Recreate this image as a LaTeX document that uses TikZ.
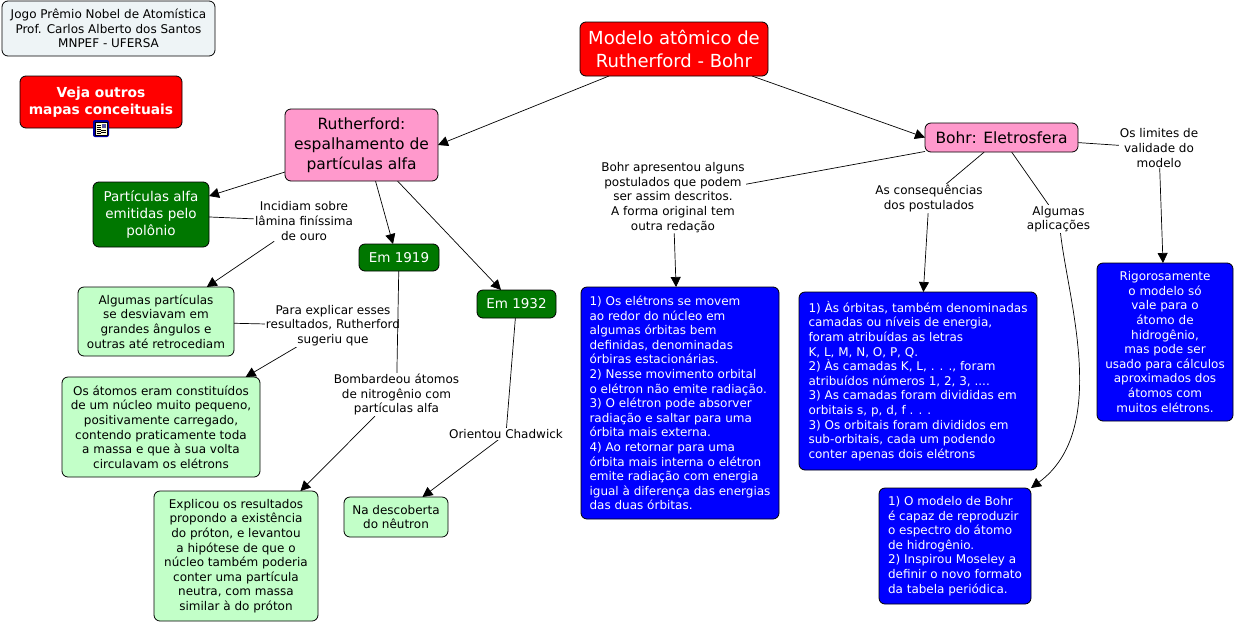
\documentclass[tikz,border=0pt]{standalone}
\usepackage{fontspec}
\setmainfont{DejaVu Sans}
\usetikzlibrary{arrows.meta,backgrounds}
\definecolor{cpink}{HTML}{FF99CC}
\definecolor{cgreen}{HTML}{007700}
\definecolor{clight}{HTML}{C2FFC8}
\definecolor{cinfo}{HTML}{EEF4F6}
\tikzset{
 x=1pt,y=-1pt,
 boxbase/.style={draw=black,line width=.8pt,rounded corners=6pt,align=center,inner sep=0pt,outer sep=0pt,font=\fontsize{12}{14.6}\selectfont},
 redbox/.style={boxbase,fill=red,text=white},
 pinkbox/.style={boxbase,fill=cpink,text=black},
 greenbox/.style={boxbase,fill=cgreen,text=white},
 lightbox/.style={boxbase,fill=clight,text=black},
 bluebox/.style={boxbase,fill=blue,text=white},
 infobox/.style={boxbase,fill=cinfo,text=black},
 linkl/.style={fill=white,inner sep=1pt,outer sep=0pt,align=center,font=\fontsize{12}{14.6}\selectfont},
 plain/.style={draw=black,line width=.7pt},
 arr/.style={plain,-{Triangle[length=10pt,width=10pt]}},
}
\newcommand{\bx}[7]{\node[#6,minimum width=#4pt-#2pt,minimum height=#5pt-#3pt] (#1) at ({(#2+#4)/2},{(#3+#5)/2}) {#7};}
\begin{document}
\begin{tikzpicture}
\useasboundingbox (0,0) rectangle (1234,622);
\bx{info}{2}{1}{215}{56}{infobox}{Jogo Prêmio Nobel de Atomística\\Prof. Carlos Alberto dos Santos\\MNPEF - UFERSA}
\bx{veja}{20}{76}{182}{128}{redbox,font=\fontsize{13.8}{17}\selectfont\bfseries}{Veja outros\\mapas conceituais}
\bx{title}{580}{22}{768}{76}{redbox,font=\fontsize{18}{23}\selectfont}{Modelo atômico de\\Rutherford - Bohr}
\bx{ruth}{285}{109}{438}{181}{pinkbox,font=\fontsize{15.5}{20}\selectfont}{Rutherford:\\espalhamento de\\partículas alfa}
\bx{bohr}{925}{123}{1078}{152}{pinkbox,font=\fontsize{15.5}{20}\selectfont}{Bohr: Eletrosfera}
\bx{part}{93}{182}{209}{247}{greenbox,font=\fontsize{13.5}{17}\selectfont}{Partículas alfa\\emitidas pelo\\polônio}
\bx{e19}{359}{244}{439}{271}{greenbox,font=\fontsize{13.5}{17}\selectfont}{Em 1919}
\bx{e32}{477}{290}{556}{318}{greenbox,font=\fontsize{13.5}{17}\selectfont}{Em 1932}
\bx{alg}{78}{287}{234}{356}{lightbox}{Algumas partículas\\se desviavam em\\grandes ângulos e\\outras até retrocediam}
\bx{ato}{62}{377}{260}{477}{lightbox}{Os átomos eram constituídos\\de um núcleo muito pequeno,\\positivamente carregado,\\contendo praticamente toda\\a massa e que à sua volta\\circulavam os elétrons}
\bx{exp}{154}{491}{318}{621}{lightbox}{Explicou os resultados\\propondo a existência\\do próton, e levantou\\a hipótese de que o\\núcleo também poderia\\conter uma partícula\\neutra, com massa\\similar à do próton}
\bx{neu}{344}{497}{448}{537}{lightbox}{Na descoberta\\do nêutron}
\bx{b1}{581}{287}{779}{519}{bluebox,align=left}{1) Os elétrons se movem\\ao redor do núcleo em\\algumas órbitas bem\\definidas, denominadas\\órbiras estacionárias.\\2) Nesse movimento orbital\\o elétron não emite radiação.\\3) O elétron pode absorver\\radiação e saltar para uma\\órbita mais externa.\\4) Ao retornar para uma\\órbita mais interna o elétron\\emite radiação com energia\\igual à diferença das energias\\das duas órbitas.}
\bx{b2}{799}{292}{1037}{470}{bluebox,align=left}{1) Às órbitas, também denominadas\\camadas ou níveis de energia,\\foram atribuídas as letras\\K, L, M, N, O, P, Q.\\2) Às camadas K, L, . . ., foram\\atribuídos números 1, 2, 3, ....\\3) As camadas foram divididas em\\orbitais s, p, d, f . . .\\3) Os orbitais foram divididos em\\sub-orbitais, cada um podendo\\conter apenas dois elétrons}
\bx{b3}{879}{488}{1031}{604}{bluebox,align=left}{1) O modelo de Bohr\\é capaz de reproduzir\\o espectro do átomo\\de hidrogênio.\\2) Inspirou Moseley a\\definir o novo formato\\da tabela periódica.}
\bx{b4}{1097}{263}{1233}{421}{bluebox}{Rigorosamente\\o modelo só\\vale para o\\átomo de\\hidrogênio,\\mas pode ser\\usado para cálculos\\aproximados dos\\átomos com\\muitos elétrons.}
% linking phrases
\node[linkl] (l1) at (304,221) {Incidiam sobre\\lâmina finíssima\\de ouro};
\node[linkl] (l2) at (333,325.5) {Para explicar esses\\resultados, Rutherford\\sugeriu que};
\node[linkl] (l3) at (396.5,394.5) {Bombardeou átomos\\de nitrogênio com\\partículas alfa};
\node[linkl] (l4) at (506,434) {Orientou Chadwick};
\node[linkl] (l5) at (673,197.5) {Bohr apresentou alguns\\postulados que podem\\ser assim descritos.\\A forma original tem\\outra redação};
\node[linkl] (l6) at (929,198.5) {As consequências\\dos postulados};
\node[linkl] (l7) at (1058.5,219) {Algumas\\aplicações};
\node[linkl] (l8) at (1159,148) {Os limites de\\validade do\\modelo};
% icon
\fill[blue!65!black,rounded corners=2pt] (93,120) rectangle (109,137);
\filldraw[draw=black,fill=yellow!15,line width=.7pt] (95,122) rectangle (107,135);
\fill[gray!70!blue] (101.5,123.5) rectangle (105.5,128);
\foreach \yy in {125,127,129,131,133}{\draw[black,line width=.6pt] (96.5,\yy) -- (100.5,\yy);}
\foreach \yy in {130,132}{\draw[black,line width=.6pt] (101,\yy) -- (105.5,\yy);}
\begin{scope}[on background layer]
\draw[arr] ([xshift=-65pt]title.south) -- (ruth.east);
\draw[arr] ([xshift=78pt]title.south) -- (bohr.west);
\draw[arr] ([yshift=-27pt]ruth.west) -- ([yshift=18.5pt]part.east);
\draw[arr] ([xshift=14pt]ruth.south) -- ([xshift=-6pt]e19.north);
\draw[arr] ([xshift=36pt]ruth.south) -- ([xshift=-15.5pt]e32.north);
\draw[plain] (part) -- (l1);
\draw[arr] (l1) -- (alg);
\draw[plain] (alg) -- (l2);
\draw[arr] (l2) -- (ato);
\draw[arr] (l3) -- (exp);
\draw[plain] (e32) -- (l4);
\draw[arr] (l4) -- (neu);
\draw[plain] (bohr) -- (l5);
\draw[arr] (l5) -- (b1);
\draw[plain] (bohr) -- (l6);
\draw[arr] (l6) -- (b2);
\draw[plain] (bohr) -- (l7);
\draw[arr] ([xshift=2pt]l7.south) .. controls (1068,300) and (1110,430) .. (b3.north east);
\draw[plain] (bohr) -- (l8);
\draw[arr] (l8) -- ([xshift=-2pt]b4.north);
\end{scope}
\draw[plain] (e19) -- (l3);
\end{tikzpicture}
\end{document}
